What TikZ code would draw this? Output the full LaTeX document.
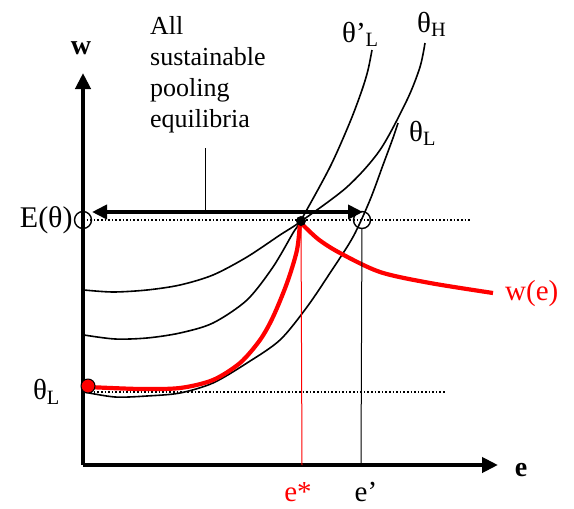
\documentclass[tikz,border=0pt]{standalone}
\usepackage{fontspec}
\setmainfont{Liberation Serif}
\usetikzlibrary{arrows.meta, positioning}
\definecolor{cred}{HTML}{FF0000}
\tikzset{
  every picture/.style={line join=round},
  axis/.style={-{Triangle[length=16pt, width=15pt]}, line width=4pt},
  span/.style={{Triangle[length=15pt, width=14pt]}-{Triangle[length=15pt, width=14pt]}, line width=4pt},
  curve/.style={line width=1.6pt, smooth},
  wcurve/.style={draw=cred, line width=4.2pt, smooth},
  level/.style={dotted, line width=1.6pt},
  drop/.style={line width=1pt},
  ring/.style={circle, draw, line width=1.4pt, minimum size=17pt, inner sep=0pt},
  lab/.style={font=\fontsize{29}{31}\selectfont, inner sep=1pt},
}
\begin{document}
\begin{tikzpicture}[x=1pt, y=-1pt]
  \useasboundingbox (0,0) rectangle (574,509);
  % axes
  \coordinate (O) at (83,465);
  \coordinate (ytip) at (83,73);
  \coordinate (xtip) at (498,465);
  \draw[axis] (O) -- (ytip);
  \draw[axis] (O) -- (xtip);
  \node[lab, font=\fontsize{28}{30}\selectfont\bfseries] (wlab) at (81,48) {w};
  \node[lab, font=\fontsize{28}{30}\selectfont\bfseries] (elab) at (521,470) {e};
  % levels
  \coordinate (Eend) at (470,220);
  \coordinate (Lend) at (445,392);
  \draw[level] (83,220) -- (Eend);
  \draw[level] (83,392) -- (Lend);
  % indifference curves
  \draw[curve] plot coordinates {(84,392) (115,397) (147,396) (180,393) (213,383) (247,363) (280,340) (307,307) (330,273) (353,237) (370,200) (383,165) (393,138) (398,123)};
  \draw[curve] plot coordinates {(84,335) (115,339) (147,338) (180,333) (213,323) (247,300) (273,267) (293,233) (300,222) (330,167) (350,122) (362,90) (368,70) (372,50)};
  \draw[curve] plot coordinates {(84,290) (113,292) (147,290) (180,285) (213,275) (247,257) (280,235) (300,222) (347,187) (380,150) (407,100) (420,67) (425,43)};
  \node[lab, anchor=south west] (thLp) at (341,48) {θ’\textsubscript{L}};
  \node[lab, anchor=south west] (thH) at (416,38) {θ\textsubscript{H}};
  \node[lab, anchor=south west] (thL) at (408,147) {θ\textsubscript{L}};
  % wage schedule
  \draw[wcurve] plot coordinates {(88,387) (140,389) (180,388) (213,380) (240,363) (260,340) (273,317) (287,283) (297,250) (300,222)};
  \draw[wcurve] plot coordinates {(300,222) (318,239) (340,253) (380,272) (430,283) (493,293)};
  \node[lab, text=cred, anchor=west] (wel) at (504,294) {w(e)};
  % points
  \node[ring] (Eth) at (83,220) {};
  \node[ring] (ep) at (362,220) {};
  \node[circle, fill, inner sep=0pt, minimum size=10pt] (es) at (301,221) {};
  \node[circle, draw, fill=cred, line width=1pt, inner sep=0pt, minimum size=14pt] (wl) at (88,386) {};
  \node[lab, font=\fontsize{30}{32}\selectfont, anchor=east] (Elab) at (Eth.west) {E(θ)};
  \node[lab, anchor=east] (Llab) at (61,392) {θ\textsubscript{L}};
  % drop lines
  \coordinate (esx) at (302,465);
  \coordinate (epx) at (361,465);
  \draw[drop, draw=cred] (es) -- (esx);
  \draw[drop] (ep) -- (epx);
  \node[lab, text=cred] (eslab) at (298,492) {e*};
  \node[lab] (eplab) at (366,492) {e’};
  % range of pooling equilibria
  \draw[span] (92,212) -- (363,212);
  \node[anchor=north west, align=left, inner sep=0pt, font=\fontsize{26}{31}\selectfont] (pool) at (150,16) {All\\sustainable\\pooling\\equilibria};
  \coordinate (poolfoot) at (205,212);
  \draw[drop] (205,148) -- (poolfoot);
\end{tikzpicture}
\end{document}
